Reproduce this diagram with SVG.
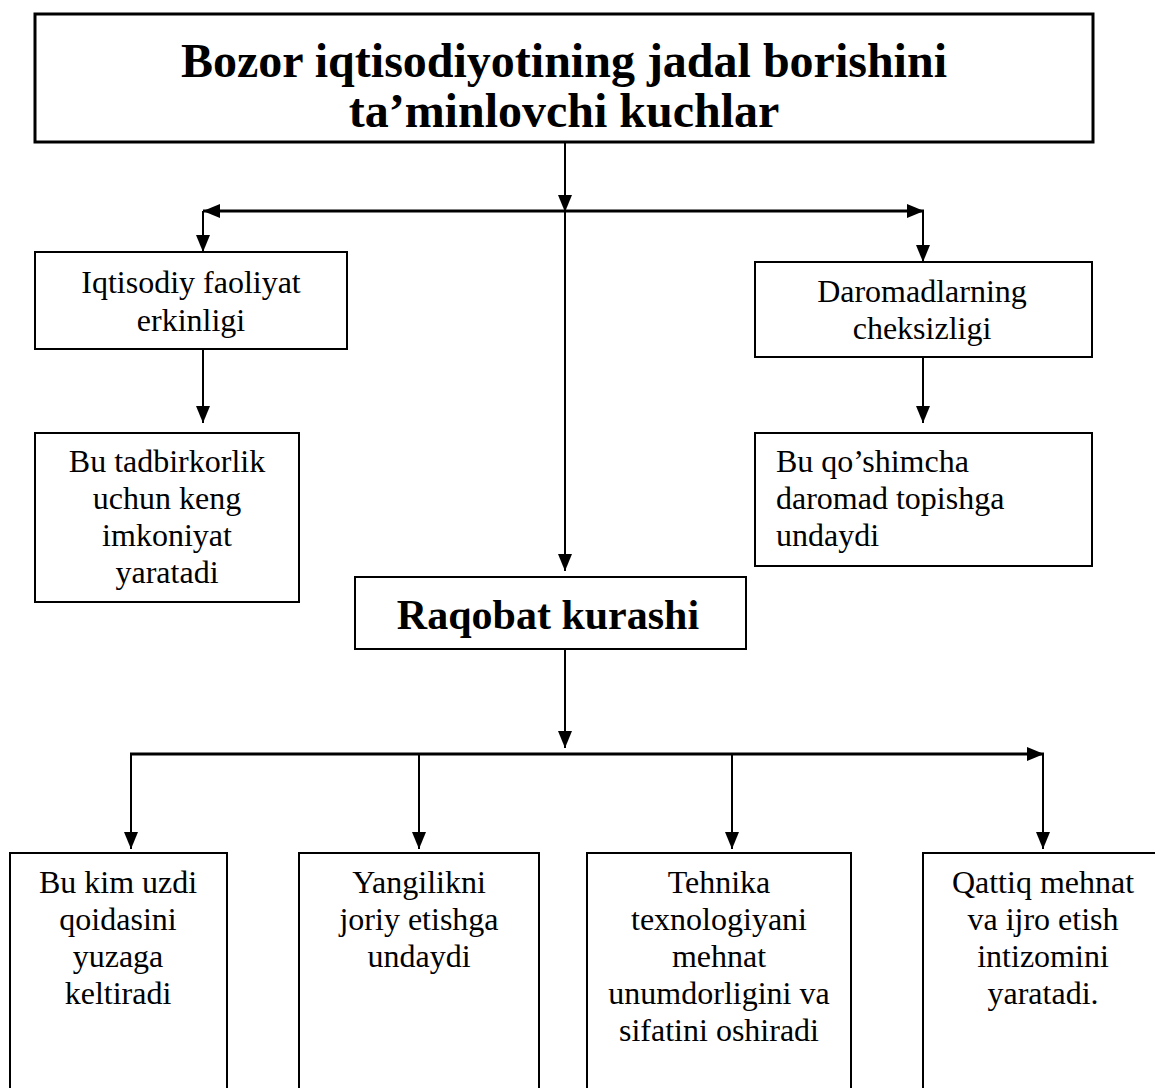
<svg xmlns="http://www.w3.org/2000/svg" width="1155" height="1088" viewBox="0 0 1155 1088">
<style>
.box{fill:#fff;stroke:#000;stroke-width:2}
.t{font-family:"Liberation Serif","Times New Roman",serif;font-size:32px;fill:#000;text-anchor:middle}
.l{text-anchor:start}
.b{font-family:"Liberation Serif","Times New Roman",serif;font-weight:bold;fill:#000;text-anchor:middle}
.c{fill:none;stroke:#000;stroke-width:2}
.h{fill:none;stroke:#000;stroke-width:3}
</style>
<defs>
<marker id="ah" markerUnits="userSpaceOnUse" markerWidth="18" markerHeight="14" viewBox="0 0 18 14" refX="17" refY="7" orient="auto">
<path d="M0,0 L17,7 L0,14 Z" fill="#000"/>
</marker>
</defs>
<rect width="1155" height="1088" fill="#fff"/>
<g id="connectors">
<path class="c" d="M565,142 V212" marker-end="url(#ah)"/>
<path class="c" d="M565,211 V571" marker-end="url(#ah)"/>
<path class="h" d="M565,211 H203" marker-end="url(#ah)"/>
<path class="h" d="M565,211 H924" marker-end="url(#ah)"/>
<path class="c" d="M203,211 V252" marker-end="url(#ah)"/>
<path class="c" d="M923,211 V262" marker-end="url(#ah)"/>
<path class="c" d="M203,349 V423" marker-end="url(#ah)"/>
<path class="c" d="M923,357 V423" marker-end="url(#ah)"/>
<path class="c" d="M565,649 V748" marker-end="url(#ah)"/>
<path class="h" d="M130,754 H1044" marker-end="url(#ah)"/>
<path class="c" d="M131,754 V849" marker-end="url(#ah)"/>
<path class="c" d="M419,754 V849" marker-end="url(#ah)"/>
<path class="c" d="M732,754 V849" marker-end="url(#ah)"/>
<path class="c" d="M1043,754 V849" marker-end="url(#ah)"/>
</g>
<g id="title">
<rect class="box" x="35" y="14" width="1058" height="128" style="stroke-width:3"/>
<text class="b" x="564" y="77" font-size="48">Bozor iqtisodiyotining jadal borishini</text>
<text class="b" x="564" y="127" font-size="48">ta’minlovchi kuchlar</text>
</g>
<g id="node-erkinlik">
<rect class="box" x="35" y="252" width="312" height="97"/>
<text class="t" x="191" y="293">Iqtisodiy faoliyat</text>
<text class="t" x="191" y="331">erkinligi</text>
</g>
<g id="node-tadbirkorlik">
<rect class="box" x="35" y="433" width="264" height="169"/>
<text class="t" x="167" y="472">Bu tadbirkorlik</text>
<text class="t" x="167" y="509">uchun keng</text>
<text class="t" x="167" y="546">imkoniyat</text>
<text class="t" x="167" y="583">yaratadi</text>
</g>
<g id="node-daromad">
<rect class="box" x="755" y="262" width="337" height="95"/>
<text class="t" x="922" y="302">Daromadlarning</text>
<text class="t" x="922" y="339">cheksizligi</text>
</g>
<g id="node-qoshimcha">
<rect class="box" x="755" y="433" width="337" height="133"/>
<text class="t l" x="776" y="472">Bu qo’shimcha</text>
<text class="t l" x="776" y="509">daromad topishga</text>
<text class="t l" x="776" y="546">undaydi</text>
</g>
<g id="node-raqobat">
<rect class="box" x="355" y="577" width="391" height="72"/>
<text class="b" x="548" y="629" font-size="42">Raqobat kurashi</text>
</g>
<g id="node-kim-uzdi">
<rect class="box" x="10" y="853" width="217" height="245"/>
<text class="t" x="118" y="893">Bu kim uzdi</text>
<text class="t" x="118" y="930">qoidasini</text>
<text class="t" x="118" y="967">yuzaga</text>
<text class="t" x="118" y="1004">keltiradi</text>
</g>
<g id="node-yangilik">
<rect class="box" x="299" y="853" width="240" height="245"/>
<text class="t" x="419" y="893">Yangilikni</text>
<text class="t" x="419" y="930">joriy etishga</text>
<text class="t" x="419" y="967">undaydi</text>
</g>
<g id="node-tehnika">
<rect class="box" x="587" y="853" width="264" height="245"/>
<text class="t" x="719" y="893">Tehnika</text>
<text class="t" x="719" y="930">texnologiyani</text>
<text class="t" x="719" y="967">mehnat</text>
<text class="t" x="719" y="1004">unumdorligini va</text>
<text class="t" x="719" y="1041">sifatini oshiradi</text>
</g>
<g id="node-mehnat">
<rect class="box" x="923" y="853" width="240" height="245"/>
<text class="t" x="1043" y="893">Qattiq mehnat</text>
<text class="t" x="1043" y="930">va ijro etish</text>
<text class="t" x="1043" y="967">intizomini</text>
<text class="t" x="1043" y="1004">yaratadi.</text>
</g>
</svg>
